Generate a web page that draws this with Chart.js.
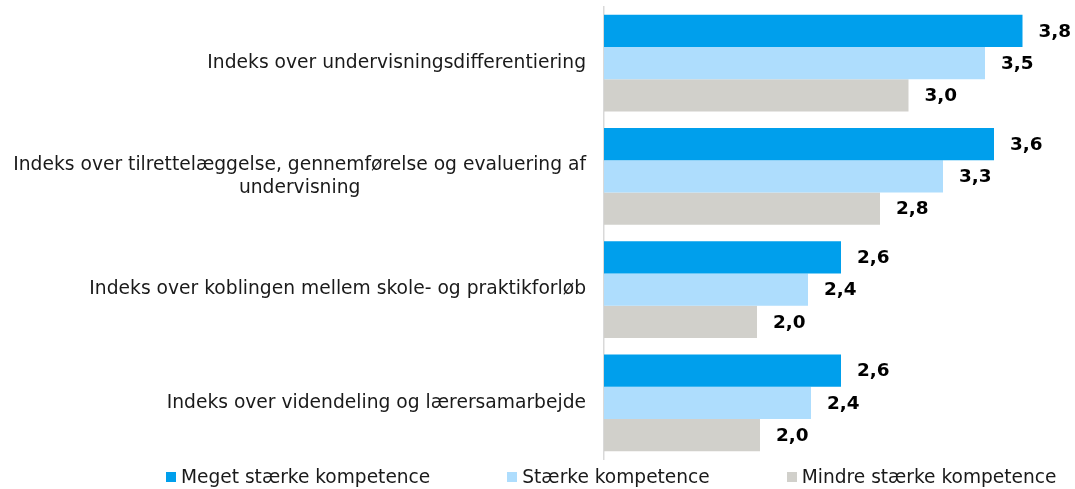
<!DOCTYPE html>
<html>
<head>
<meta charset="utf-8">
<script src="https://cdn.jsdelivr.net/npm/chart.js@4/dist/chart.umd.min.js"></script>
<style>
    html, body { margin: 0; padding: 0; background: #fff; }
    #wrap { position: relative; width: 1075px; height: 489px; }
    #legend {
        position: absolute; left: 166px; top: 466px; height: 22px;
        display: flex; align-items: center; gap: 77px;
        font: 18.6px "DejaVu Sans", Verdana, sans-serif; color: #1a1a1a; white-space: nowrap;
    }
    #legend .item { display: flex; align-items: center; line-height: 22px; }
    #legend .box { width: 10px; height: 10px; margin-right: 5px; }
</style>
</head>
<body>
<div id="wrap">
    <canvas id="chart" width="1075" height="489"></canvas>
    <div id="legend"></div>
</div>
<script>
// categories (multi-line labels as arrays)
const categories = [
    ['Indeks over undervisningsdifferentiering'],
    ['Indeks over tilrettelæggelse, gennemførelse og evaluering af', 'undervisning'],
    ['Indeks over koblingen mellem skole- og praktikforløb'],
    ['Indeks over videndeling og lærersamarbejde']
];
const seriesNames = ['Meget stærke kompetence', 'Stærke kompetence', 'Mindre stærke kompetence'];
const seriesColors = ['#009FEC', '#AEDDFD', '#D1D0CB'];
const meget = [3.79, 3.60, 2.58, 2.58];
const staerke = [3.54, 3.26, 2.36, 2.38];
const mindre = [3.03, 2.84, 2.02, 2.04];

const FONT = '"DejaVu Sans", Verdana, sans-serif';

// category labels: block right-aligned, lines centred inside the block
const categoryLabels = {
    id: 'categoryLabels',
    afterDraw(chart) {
        const { ctx, scales: { y } } = chart;
        const right = 586;
        const lineH = 23;
        ctx.save();
        ctx.font = '18.7px ' + FONT;
        ctx.fillStyle = '#1a1a1a';
        ctx.textBaseline = 'middle';
        ctx.textAlign = 'center';
        categories.forEach((lines, i) => {
            const cy = y.getPixelForValue(i);
            const w = Math.max(...lines.map(l => ctx.measureText(l).width));
            const cx = right - w / 2;
            const top = cy - (lines.length - 1) * lineH / 2;
            lines.forEach((l, j) => ctx.fillText(l, cx, top + j * lineH));
        });
        ctx.restore();
    }
};

// value labels to the right of each bar
const valueLabels = {
    id: 'valueLabels',
    afterDatasetsDraw(chart) {
        const { ctx } = chart;
        ctx.save();
        ctx.font = 'bold 18.4px ' + FONT;
        ctx.fillStyle = '#000';
        ctx.textBaseline = 'middle';
        ctx.textAlign = 'left';
        chart.data.datasets.forEach((ds, di) => {
            chart.getDatasetMeta(di).data.forEach((bar, i) => {
                const txt = ds.data[i].toFixed(1).replace('.', ',');
                ctx.fillText(txt, bar.x + 16, bar.y + 1);
            });
        });
        ctx.restore();
    }
};

const seriesData = [meget, staerke, mindre];

new Chart(document.getElementById('chart'), {
    type: 'bar',
    data: {
        labels: categories.map(c => c.join(' ')),
        datasets: seriesNames.map((name, i) => ({
            label: name,
            data: seriesData[i],
            backgroundColor: seriesColors[i],
            borderWidth: 0,
            barPercentage: 1,
            categoryPercentage: 0.856
        }))
    },
    options: {
        indexAxis: 'y',
        responsive: false,
        animation: false,
        layout: { padding: { left: 604, right: 21, top: 6.5, bottom: 29.5 } },
        scales: {
            x: { min: 1, max: 4, display: false },
            y: {
                ticks: { display: false },
                grid: { display: false, drawTicks: false },
                border: { display: true, color: '#d9d9d9', width: 1.5 }
            }
        },
        plugins: {
            legend: { display: false },
            tooltip: { enabled: false }
        }
    },
    plugins: [categoryLabels, valueLabels]
});

// legend
const legendEl = document.getElementById('legend');
seriesNames.forEach((name, i) => {
    const item = document.createElement('div');
    item.className = 'item';
    item.innerHTML = `<span class="box" style="background:${seriesColors[i]}"></span><span>${name}</span>`;
    legendEl.appendChild(item);
});
</script>
</body>
</html>
